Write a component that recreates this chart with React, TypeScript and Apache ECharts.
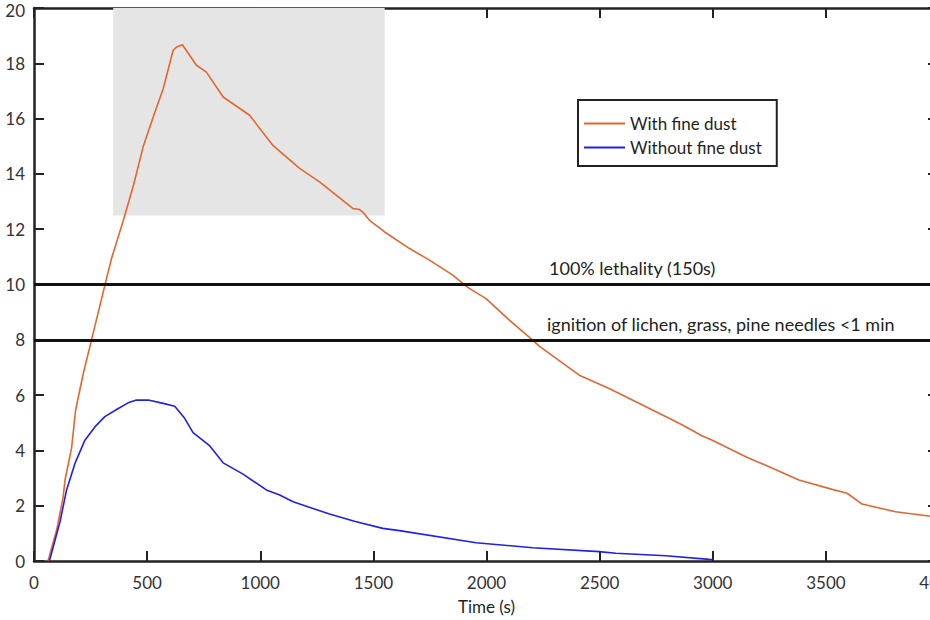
import * as echarts from "echarts";
import { useEffect, useRef } from "react";

const withDustTime = [
    62, 100, 129, 137, 166, 184, 218, 254, 313, 343, 394, 440, 482, 527, 571, 615, 630, 656, 718, 762,
    836, 953, 1056, 1174, 1262, 1409, 1439, 1453, 1483, 1550, 1660, 1748, 1851, 1895, 1924, 1998, 2101,
    2204, 2233, 2410, 2542, 2660, 2807, 2866, 2954, 2998, 3146, 3249, 3381, 3528, 3594, 3660, 3808, 3955,
    4000
];
const withDustValue = [
    0, 1.12, 2.32, 2.93, 4.08, 5.46, 6.79, 7.99, 9.97, 10.95, 12.3, 13.6, 14.97, 16.06, 17.08, 18.47,
    18.59, 18.67, 17.93, 17.68, 16.78, 16.12, 15.03, 14.2, 13.71, 12.75, 12.71, 12.62, 12.32, 11.9, 11.3,
    10.88, 10.34, 10.04, 9.86, 9.49, 8.71, 7.99, 7.77, 6.72, 6.24, 5.76, 5.16, 4.92, 4.52, 4.37, 3.77,
    3.41, 2.93, 2.59, 2.45, 2.06, 1.78, 1.63, 1.6
];

const withoutDustTime = [
    68, 115, 144, 181, 225, 269, 313, 365, 416, 453, 505, 571, 622, 666, 703, 777, 836, 924, 1027, 1086,
    1145, 1233, 1306, 1420, 1542, 1615, 1954, 2204, 2498, 2572, 2793, 2984, 3000
];
const withoutDustValue = [
    0, 1.42, 2.57, 3.53, 4.37, 4.85, 5.22, 5.48, 5.72, 5.82, 5.82, 5.7, 5.6, 5.16, 4.64, 4.16, 3.55, 3.14,
    2.57, 2.39, 2.14, 1.9, 1.7, 1.43, 1.18, 1.1, 0.66, 0.48, 0.34, 0.28, 0.19, 0.06, 0.05
];

const thresholds = [10, 8];
const woodZone = { fromTime: 350, toTime: 1550, fromValue: 12.5, toValue: 20 };

const FONT = "Lato";
const TEXT = "#231f20";

// the plot runs past the right edge of the window, so the chart is wider than what is shown
const CHART_W = 960;

const makeLine = () => ({ show: true, onZero: false, lineStyle: { color: "#222", width: 2.5 } });
const makeTick = (length = 10) => ({
    show: true,
    inside: true,
    length,
    lineStyle: { color: "#222", width: 2 }
});

export default function App() {
    const chartRef = useRef<HTMLDivElement>(null);

    useEffect(() => {
        if (!chartRef.current) return;
        const chart = echarts.init(chartRef.current, null, { renderer: "svg" });

        const option: echarts.EChartsOption = {
            animation: false,
            textStyle: { fontFamily: FONT },
            grid: {
                left: 34,
                right: CHART_W - 939,
                top: 8,
                bottom: 59,
                containLabel: false,
                outerBoundsMode: "none"
            } as any,
            legend: {
                orient: "vertical",
                left: 578,
                top: 100,
                width: 205,
                padding: [15, 15, 10, 6],
                itemGap: 7,
                itemWidth: 41,
                itemHeight: 2,
                icon: "rect",
                borderColor: "#222",
                borderWidth: 2,
                backgroundColor: "#fff",
                textStyle: { fontFamily: FONT, fontSize: 17, color: TEXT },
                data: ["With fine dust", "Without fine dust"]
            },
            xAxis: [
                {
                    type: "value",
                    min: 0,
                    max: 4000,
                    interval: 500,
                    name: "Time (s)",
                    nameLocation: "middle",
                    nameGap: 37,
                    nameTextStyle: { fontFamily: FONT, fontSize: 17, color: TEXT },
                    axisLine: makeLine(),
                    axisTick: makeTick(),
                    splitLine: { show: false },
                    axisLabel: {
                        fontFamily: FONT,
                        fontSize: 17,
                        color: "#333",
                        margin: 13,
                        formatter: (v: number) => String(v)
                    }
                },
                {
                    type: "value",
                    position: "top",
                    min: 0,
                    max: 4000,
                    interval: 500,
                    axisLine: makeLine(),
                    axisTick: makeTick(),
                    splitLine: { show: false },
                    axisLabel: { show: false }
                }
            ],
            yAxis: [
                {
                    type: "value",
                    min: 0,
                    max: 20,
                    interval: 2,
                    axisLine: makeLine(),
                    axisTick: makeTick(),
                    splitLine: { show: false },
                    axisLabel: {
                        fontFamily: FONT,
                        fontSize: 17,
                        color: "#333",
                        margin: 9,
                        formatter: (v: number) => (v === 20 ? "{top|20}" : String(v)),
                        rich: { top: { fontFamily: FONT, fontSize: 17, color: "#333", padding: [5, 0, 0, 0] } }
                    }
                },
                {
                    type: "value",
                    position: "right",
                    min: 0,
                    max: 20,
                    interval: 2,
                    axisLine: makeLine(),
                    axisTick: makeTick(11),
                    splitLine: { show: false },
                    axisLabel: { show: false }
                }
            ],
            series: [
                {
                    name: "With fine dust",
                    type: "line",
                    symbol: "none",
                    z: 3,
                    lineStyle: { color: "#e2672e", width: 1.6 },
                    itemStyle: { color: "#e2672e" },
                    data: withDustTime.map((t, i) => [t, withDustValue[i]]),
                    markArea: {
                        silent: true,
                        itemStyle: { color: "#e5e5e5" },
                        data: [
                            [
                                { coord: [woodZone.fromTime, woodZone.fromValue] },
                                { coord: [woodZone.toTime, woodZone.toValue] }
                            ]
                        ]
                    },
                    markLine: {
                        silent: true,
                        symbol: "none",
                        label: { show: false },
                        lineStyle: { color: "#111", width: 3, type: "solid" },
                        data: thresholds.map((v) => ({ yAxis: v }))
                    }
                },
                {
                    name: "Without fine dust",
                    type: "line",
                    symbol: "none",
                    z: 3,
                    lineStyle: { color: "#2020e6", width: 1.6 },
                    itemStyle: { color: "#2020e6" },
                    data: withoutDustTime.map((t, i) => [t, withoutDustValue[i]])
                }
            ],
            graphic: [
                {
                    type: "text",
                    left: 241,
                    top: 40,
                    style: { text: "piloted ignition", font: `18px ${FONT}`, fill: TEXT }
                },
                {
                    type: "text",
                    left: 245,
                    top: 63,
                    style: { text: "of wood", font: `18px ${FONT}`, fill: TEXT }
                },
                {
                    type: "text",
                    left: 549,
                    top: 259,
                    style: { text: "100% lethality (150s)", font: `18px ${FONT}`, fill: TEXT }
                },
                {
                    type: "text",
                    left: 547,
                    top: 315,
                    style: {
                        text: "ignition of lichen, grass, pine needles <1 min",
                        font: `18px ${FONT}`,
                        fill: TEXT
                    }
                }
            ]
        };

        chart.setOption(option);
        return () => chart.dispose();
    }, []);

    return (
        <div style={{ position: "fixed", left: 0, top: 0, width: 930, height: 620, overflow: "hidden", background: "#fff" }}>
            <div ref={chartRef} style={{ width: CHART_W, height: 620 }} />
        </div>
    );
}
